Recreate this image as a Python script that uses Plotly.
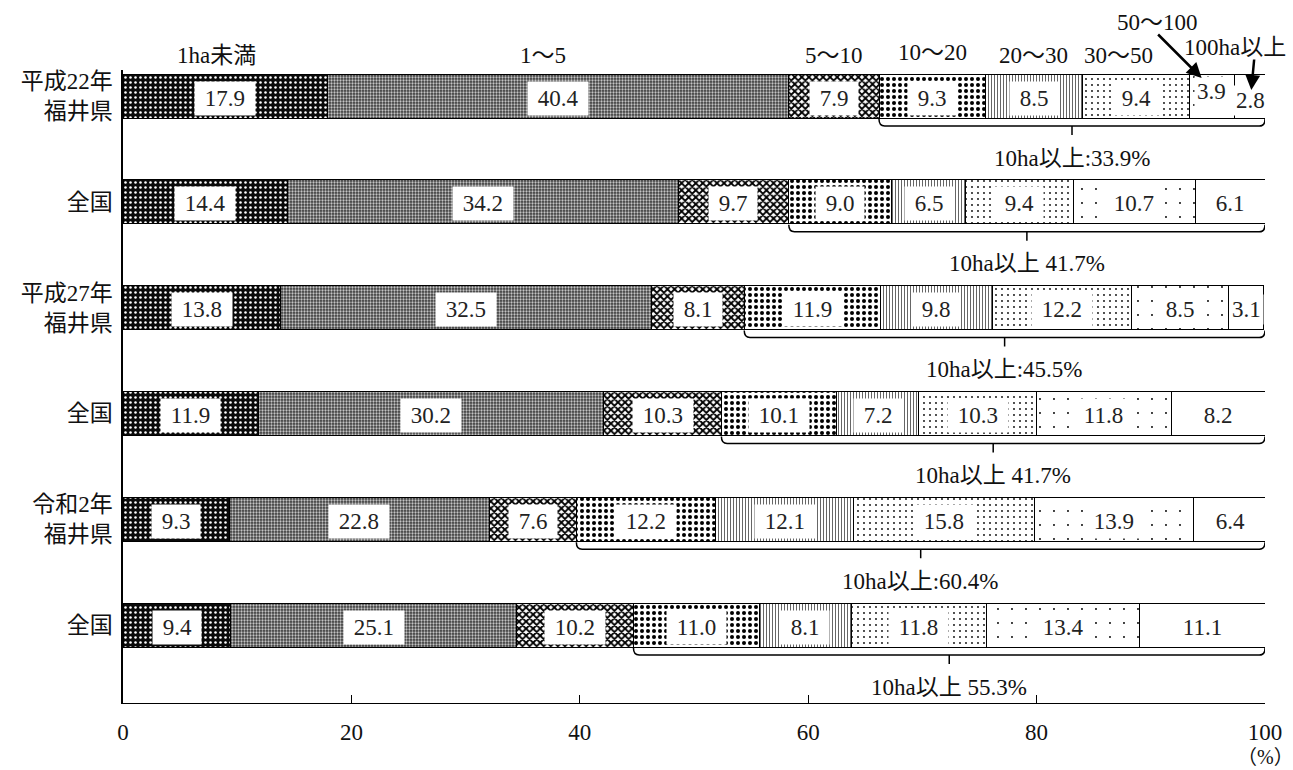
import plotly.graph_objects as go

# ---------------- data ----------------
rows = ["平成22年<br>福井県", "全国", "平成27年<br>福井県", "全国", "令和2年<br>福井県", "全国"]
classes = ["1ha未満", "1～5", "5～10", "10～20", "20～30", "30～50", "50～100", "100ha以上"]
v_lt1 = [17.9, 14.4, 13.8, 11.9, 9.3, 9.4]
v_1_5 = [40.4, 34.2, 32.5, 30.2, 22.8, 25.1]
v_5_10 = [7.9, 9.7, 8.1, 10.3, 7.6, 10.2]
v_10_20 = [9.3, 9.0, 11.9, 10.1, 12.2, 11.0]
v_20_30 = [8.5, 6.5, 9.8, 7.2, 12.1, 8.1]
v_30_50 = [9.4, 9.4, 12.2, 10.3, 15.8, 11.8]
v_50_100 = [3.9, 10.7, 8.5, 11.8, 13.9, 13.4]
v_ge100 = [2.8, 6.1, 3.1, 8.2, 6.4, 11.1]
over10_labels = ["10ha以上:33.9%", "10ha以上 41.7%", "10ha以上:45.5%",
                 "10ha以上 41.7%", "10ha以上:60.4%", "10ha以上 55.3%"]
x_ticks = [0, 20, 40, 60, 80, 100]

series = [v_lt1, v_1_5, v_5_10, v_10_20, v_20_30, v_30_50, v_50_100, v_ge100]

# ---------------- style ----------------
FONT = "Liberation Serif, Noto Sans CJK JP"
W, H = 1293, 770
L, R, T, B = 123, 28, 70, 67
PLOT_W = W - L - R
PLOT_H = H - T - B
PX_PER_UNIT = PLOT_W / 100
STEP = 105.8                       # px between bar centres
Y0 = -(96 - T) / STEP              # data value at top of plot
Y1 = Y0 + PLOT_H / STEP            # data value at bottom
BAR_W = 44 / STEP
NB = "\u00a0"

def py2d(px_off):
    return px_off / STEP

def paper_y(py):
    return (H - B - py) / PLOT_H

def paper_x(px):
    return (px - L) / PLOT_W

patterns = [
    dict(shape=".", bgcolor="#0a0a0a", fgcolor="#ffffff", size=5, solidity=0.2),
    dict(shape=".", bgcolor="#3c3c3c", fgcolor="#c4c4c4", size=3, solidity=0.45),
    dict(shape="x", bgcolor="#ffffff", fgcolor="#000000", size=5, solidity=0.6),
    dict(shape=".", bgcolor="#ffffff", fgcolor="#000000", size=6, solidity=0.35),
    dict(shape="|", bgcolor="#ffffff", fgcolor="#555555", size=3, solidity=0.3),
    dict(shape=".", bgcolor="#ffffff", fgcolor="#000000", size=6, solidity=0.07),
    dict(shape=".", bgcolor="#ffffff", fgcolor="#000000", size=14, solidity=0.015),
    None,
]

ypos = list(range(len(rows)))

fig = go.Figure()
for name, vals, pat in zip(classes, series, patterns):
    marker = dict(color="white", line=dict(color="black", width=1))
    if pat is not None:
        marker["pattern"] = dict(fillmode="replace", **pat)
    fig.add_trace(go.Bar(
        name=name, y=ypos, x=vals, orientation="h", width=BAR_W,
        marker=marker, showlegend=False, hoverinfo="skip",
    ))

annotations = []
shapes = []

# value labels in white boxes
for k in ypos:
    cum = 0.0
    for si, vals in enumerate(series):
        v = vals[k]
        ys = -2
        if k == 0 and si == 6:
            ys = 5
        if k == 0 and si == 7:
            ys = -4
        txt = f"{v:.1f}"
        if v * PX_PER_UNIT > 62:
            txt = NB + txt + NB
        annotations.append(dict(
            x=cum + v / 2, y=k, xref="x", yref="y", text=txt,
            xanchor="center", yanchor="middle",
            showarrow=False, bgcolor="white",
            borderpad=4 if v * PX_PER_UNIT > 50 else 2, yshift=ys,
            font=dict(family=FONT, size=23, color="#222"),
        ))
        cum += v

# brackets for 10ha以上
for k in ypos:
    x0 = v_lt1[k] + v_1_5[k] + v_5_10[k]
    x1 = 100
    xm = (x0 + x1) / 2
    ytop = k + BAR_W / 2 + py2d(1)
    yl = k + BAR_W / 2 + py2d(8)
    ytk = k + BAR_W / 2 + py2d(17)
    r = 0.5
    path = (f"M {x0},{ytop} Q {x0},{yl} {x0 + r},{yl} L {x1 - r},{yl} "
            f"Q {x1},{yl} {x1},{ytop} M {xm},{yl} L {xm},{ytk}")
    shapes.append(dict(type="path", path=path, xref="x", yref="y",
                       line=dict(color="black", width=1.5)))
    annotations.append(dict(
        x=xm, y=k + BAR_W / 2 + py2d(40), xref="x", yref="y",
        xanchor="center", yanchor="middle",
        text=over10_labels[k], showarrow=False,
        font=dict(family=FONT, size=23, color="#111"),
    ))

# class labels above the first bar
cum = 0.0
centres = []
for vals in series:
    centres.append(cum + vals[0] / 2)
    cum += vals[0]
label_dx = [-0.8, -1.3, 0, 0, 0, -1.5]
label_py = [56, 56, 56, 53, 56, 56]
for i in range(6):
    annotations.append(dict(
        x=centres[i] + label_dx[i], y=paper_y(label_py[i]), xref="x", yref="paper",
        xanchor="center", yanchor="middle",
        text=classes[i], showarrow=False,
        font=dict(family=FONT, size=23, color="#111"),
    ))
# 50～100 with arrow
annotations.append(dict(x=centres[6] - 4.8, y=paper_y(22), xref="x", yref="paper",
                        xanchor="center", yanchor="middle",
                        text=classes[6], showarrow=False,
                        font=dict(family=FONT, size=23, color="#111")))
annotations.append(dict(x=centres[6] - 0.9, y=paper_y(78), xref="x", yref="paper",
                        text="", showarrow=True, arrowhead=2, arrowsize=1.2,
                        arrowwidth=2.5, arrowcolor="black",
                        ax=-45, ay=-45))
# 100ha以上 with arrow
annotations.append(dict(x=centres[7] - 1.3, y=paper_y(47), xref="x", yref="paper",
                        xanchor="center", yanchor="middle",
                        text=classes[7], showarrow=False,
                        font=dict(family=FONT, size=23, color="#111")))
annotations.append(dict(x=centres[7] + 0.1, y=paper_y(90), xref="x", yref="paper",
                        text="", showarrow=True, arrowhead=2, arrowsize=1.2,
                        arrowwidth=2.5, arrowcolor="black",
                        ax=3, ay=-32))
# unit
annotations.append(dict(x=paper_x(1265), y=paper_y(757), xref="paper", yref="paper",
                        xanchor="center", yanchor="middle",
                        text="（%）", showarrow=False,
                        font=dict(family=FONT, size=20, color="#111")))

fig.update_layout(
    width=W, height=H, barmode="stack",
    margin=dict(l=L, r=R, t=T, b=B),
    paper_bgcolor="white", plot_bgcolor="white",
    font=dict(family=FONT, color="#111"),
    annotations=annotations, shapes=shapes,
    xaxis=dict(range=[0, 100], tickvals=x_ticks, ticks="inside", ticklen=8,
               tickcolor="black", showline=True, linecolor="black", linewidth=1,
               showgrid=False, zeroline=False, ticklabelstandoff=8,
               tickfont=dict(family=FONT, size=23, color="#111")),
    yaxis=dict(range=[Y1, Y0], tickvals=ypos, ticktext=rows, ticks="",
               showline=True, linecolor="black", linewidth=1.5,
               showgrid=False, zeroline=False, ticklabelstandoff=4,
               tickfont=dict(family=FONT, size=23, color="#111")),
)

fig.write_html("out.html", config={"displayModeBar": False},
               post_script="document.body.style.margin='0';")
